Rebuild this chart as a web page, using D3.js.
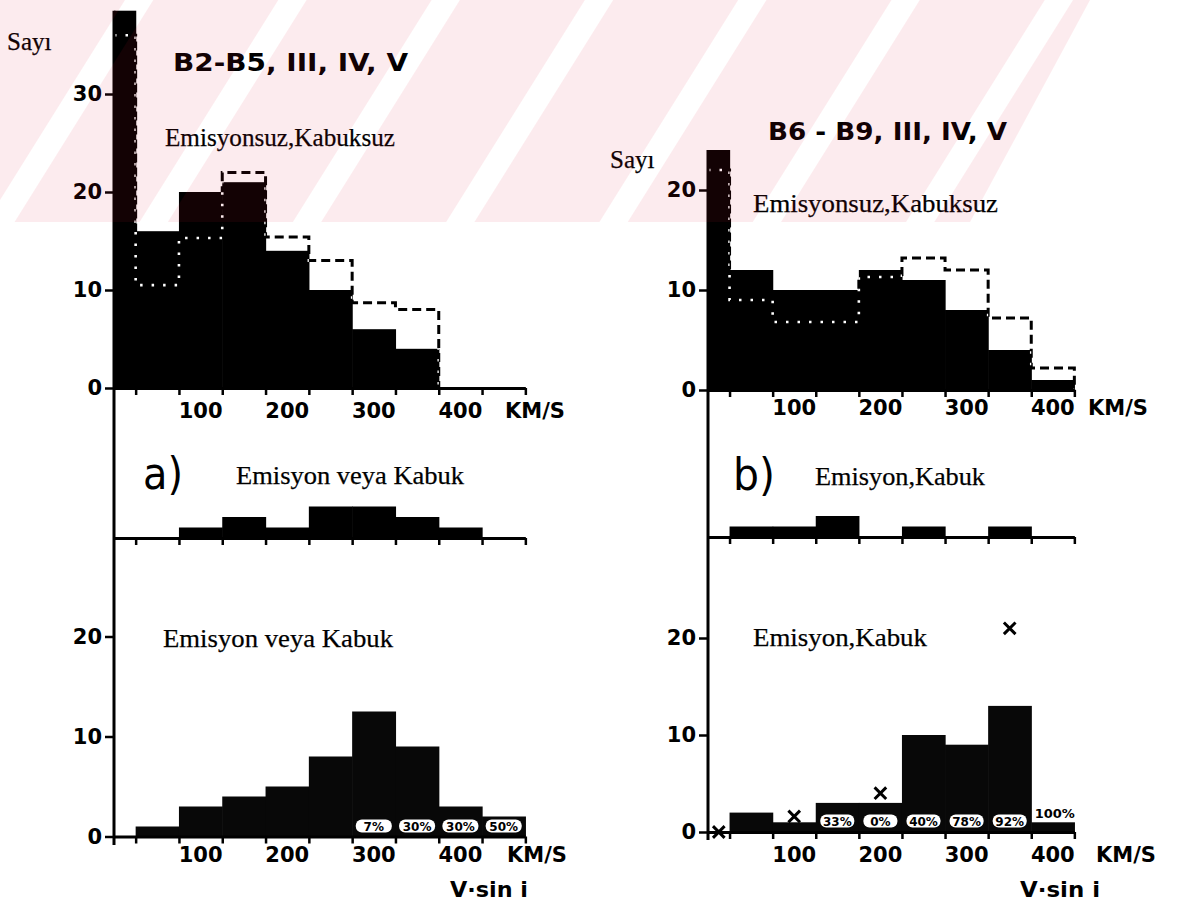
<!DOCTYPE html>
<html><head><meta charset="utf-8">
<script src="https://cdn.jsdelivr.net/npm/d3@7"></script>
<style>
body{margin:0;background:#fff}
.serif{font-family:"Liberation Serif","DejaVu Serif",serif;fill:#000;stroke:#000;stroke-width:0.25}
.sans{font-family:"DejaVu Sans",sans-serif;font-weight:bold;fill:#000}
</style>
</head><body>
<svg id="c" width="1193" height="904"></svg>
<script>
// ---------- data ----------
const binEdges = [0, 25, 75, 125, 175, 225, 275, 325, 375, 425, 475];
const tickKms = [25, 75, 125, 175, 225, 275, 325, 375, 425, 475];
const labelKms = [100, 200, 300, 400];
const unitLabel = "KM/S";
const xTitle = "V·sin i";

const topA = [38.5, 16, 20, 21, 14, 10, 6, 4, 0, 0];
const topADashed = [36, 10.5, 15.3, 22, 15.4, 13, 8.7, 8];
const topB = [24, 12, 10, 10, 12, 11, 8, 4, 1];
const topBDashed = [22, 9, 6.8, 6.8, 11.3, 13.2, 12, 7.2, 2.2];
const midA = [0, 0, 1, 2, 1, 3, 3, 2, 1, 0];
const midB = [0, 1, 1, 2, 0, 1, 0, 1, 0];
const botA = [0, 1, 3, 4, 5, 8, 12.5, 9, 3, 2];
const botB = [0, 2, 1, 3, 3, 10, 9, 13, 1];
const pctA = [null, null, null, null, null, null, "7%", "30%", "30%", "50%"];
const pctB = [null, null, null, "33%", "0%", "40%", "78%", "92%", null];
const pctBLast = "100%";
const crossKms = [12.5, 100, 200, 350];
const crossN = [0, 1.6, 4, 21];
const yTicksTopA = [0, 10, 20, 30];
const yTicks = [0, 10, 20];

const titleA = "B2-B5, III, IV, V";
const titleB = "B6 - B9, III, IV, V";
const sayi = "Sayı";
const lblNoEm = "Emisyonsuz,Kabuksuz";
const lblEmA = "Emisyon veya Kabuk";
const lblEmB = "Emisyon,Kabuk";

// ---------- setup ----------
const svg = d3.select("#c");
const defs = svg.append("defs");

const xA = d3.scaleLinear().domain([0, 475]).range([114, 114 + 0.866 * 475]);
const xB = d3.scaleLinear().domain([0, 425]).range([708, 708 + 0.862 * 425]);

const yTopA = d3.scaleLinear().domain([0, 10]).range([388, 290]);
const yTopB = d3.scaleLinear().domain([0, 10]).range([390, 290]);
const yMidA = d3.scaleLinear().domain([0, 1]).range([538, 527.5]);
const yMidB = d3.scaleLinear().domain([0, 1]).range([537, 526.5]);
const yBotA = d3.scaleLinear().domain([0, 10]).range([836.5, 736.5]);
const yBotB = d3.scaleLinear().domain([0, 10]).range([832, 735]);

let clipId = 0;
function bars(g, x, y, vals, fill) {
  const data = vals.map((v, i) => ({v, i})).filter(d => d.v > 0);
  return g.append("g").selectAll("rect").data(data).join("rect")
    .attr("x", d => x(binEdges[d.i]))
    .attr("width", d => x(binEdges[d.i + 1]) - x(binEdges[d.i]) + 0.6)
    .attr("y", d => y(d.v))
    .attr("height", d => y(0) - y(d.v))
    .attr("fill", fill || "#000");
}
function dashed(g, x, y, barVals, vals) {
  const n = vals.length;
  const pts = vals.map((v, i) => [x(binEdges[i]), y(v)]);
  pts.push([x(binEdges[n]), y(vals[n - 1])]);
  pts.push([x(binEdges[n]), y(0)]);
  const line = d3.line().curve(d3.curveStepAfter);
  const id = "clip" + (clipId++);
  const cp = defs.append("clipPath").attr("id", id);
  barVals.forEach((v, i) => {
    if (v > 0) cp.append("rect").attr("x", x(binEdges[i])).attr("width", x(binEdges[i + 1]) - x(binEdges[i]))
      .attr("y", y(v)).attr("height", y(0) - y(v));
  });
  g.append("path").attr("d", line(pts)).attr("fill", "none").attr("stroke", "#000")
    .attr("stroke-width", 3).attr("stroke-dasharray", "9,5");
  g.append("path").attr("d", line(pts)).attr("fill", "none").attr("stroke", "#fff")
    .attr("stroke-width", 2.6).attr("stroke-dasharray", "2.5,9").attr("clip-path", `url(#${id})`);
}
function xAxis(g, x, y0, showLabels, labelY, kmX, kmY) {
  const ax = g.append("g").attr("transform", `translate(0,${y0})`)
    .call(d3.axisBottom(x).tickValues(tickKms.filter(t => t <= x.domain()[1])).tickSize(7).tickSizeOuter(0).tickFormat(""));
  ax.select(".domain").attr("stroke-width", 3).attr("stroke", "#000");
  ax.selectAll(".tick line").attr("stroke-width", 2.5).attr("stroke", "#000");
  if (showLabels) {
    g.append("g").selectAll("text").data(labelKms).join("text")
      .attr("class", "sans").attr("x", d => x(d)).attr("y", labelY)
      .attr("text-anchor", "middle").attr("font-size", 21).text(d => d);
    g.append("text").attr("class", "sans").attr("x", kmX).attr("y", kmY)
      .attr("font-size", 21).text(unitLabel);
  }
}
function yAxis(g, x0, y, ticks) {
  const ax = g.append("g").attr("transform", `translate(${x0},0)`)
    .call(d3.axisLeft(y).tickValues(ticks).tickSize(9).tickPadding(3).tickFormat(d3.format("d")));
  ax.select(".domain").remove();
  ax.selectAll(".tick line").attr("stroke-width", 2.5).attr("stroke", "#000");
  ax.selectAll(".tick text").attr("class", "sans").attr("font-size", 21).attr("font-family", null);
}
function txt(cls, x, y, s, size, len) {
  const t = svg.append("text").attr("class", cls).attr("x", x).attr("y", y)
    .attr("font-size", size).text(s);
  if (len) t.attr("textLength", len).attr("lengthAdjust", "spacingAndGlyphs");
  return t;
}

// ---------- panel a ----------
const gA = svg.append("g");
bars(gA, xA, yTopA, topA);
dashed(gA, xA, yTopA, topA, topADashed);
xAxis(gA, xA, yTopA(0), true, 418, 505, 418);
yAxis(gA, 114, yTopA, yTicksTopA);

bars(gA, xA, yMidA, midA);
xAxis(gA, xA, yMidA(0), false);

bars(gA, xA, yBotA, botA, "#080808");
xAxis(gA, xA, yBotA(0), true, 862, 507, 862);
yAxis(gA, 114, yBotA, yTicks);
gA.append("line").attr("x1", xA(0)).attr("x2", xA(0)).attr("y1", yTopA(topA[0])).attr("y2", 845)
  .attr("stroke", "#000").attr("stroke-width", 3);

const pa = gA.append("g").selectAll("g").data(pctA.map((p, i) => ({p, i})).filter(d => d.p)).join("g")
  .attr("transform", d => `translate(${(xA(binEdges[d.i]) + xA(binEdges[d.i + 1])) / 2},826)`);
pa.append("rect").attr("x", -18).attr("y", -6.5).attr("width", 36).attr("height", 13).attr("rx", 6).attr("fill", "#fff");
pa.append("text").attr("class", "sans").attr("text-anchor", "middle").attr("y", 4.5).attr("font-size", 12).text(d => d.p);

// ---------- panel b ----------
const gB = svg.append("g");
bars(gB, xB, yTopB, topB);
dashed(gB, xB, yTopB, topB, topBDashed);
xAxis(gB, xB, yTopB(0), true, 415, 1088, 415);
yAxis(gB, 708, yTopB, yTicks);

bars(gB, xB, yMidB, midB);
xAxis(gB, xB, yMidB(0), false);

bars(gB, xB, yBotB, botB, "#080808");
xAxis(gB, xB, yBotB(0), true, 862, 1096, 862);
yAxis(gB, 708, yBotB, yTicks);
gB.append("line").attr("x1", xB(0)).attr("x2", xB(0)).attr("y1", yTopB(topB[0])).attr("y2", 840)
  .attr("stroke", "#000").attr("stroke-width", 3);

const pb = gB.append("g").selectAll("g").data(pctB.map((p, i) => ({p, i})).filter(d => d.p)).join("g")
  .attr("transform", d => `translate(${(xB(binEdges[d.i]) + xB(binEdges[d.i + 1])) / 2},821)`);
pb.append("rect").attr("x", -17).attr("y", -6.5).attr("width", 34).attr("height", 13).attr("rx", 6).attr("fill", "#fff");
pb.append("text").attr("class", "sans").attr("text-anchor", "middle").attr("y", 4.5).attr("font-size", 12).text(d => d.p);
gB.append("text").attr("class", "sans").attr("x", (xB(binEdges[8]) + xB(binEdges[9])) / 2 + 2).attr("y", 818)
  .attr("text-anchor", "middle").attr("font-size", 13).text(pctBLast);

gB.append("g").selectAll("path").data(crossKms.map((k, i) => ({k, n: crossN[i]}))).join("path")
  .attr("transform", d => `translate(${xB(d.k)},${yBotB(d.n)})`)
  .attr("d", d3.symbol(d3.symbolX, 90)())
  .attr("fill", "none").attr("stroke", "#000").attr("stroke-width", 3);

// ---------- texts ----------
txt("sans", 173, 71, titleA, 25, 235);
txt("sans", 768, 140, titleB, 25, 239);
txt("serif", 7, 50, sayi, 25);
txt("serif", 610, 168, sayi, 25);
txt("serif", 165, 146, lblNoEm, 26, 230);
txt("serif", 753, 212, lblNoEm, 26, 245);
txt("serif", 236, 484, lblEmA, 26, 228);
txt("serif", 815, 485, lblEmB, 26, 170);
txt("serif", 163, 647, lblEmA, 26, 230);
txt("serif", 753, 646, lblEmB, 26, 174);
svg.append("text").attr("x", 143).attr("y", 489).attr("font-family", "DejaVu Sans").attr("font-size", 44)
  .attr("textLength", 40).attr("lengthAdjust", "spacingAndGlyphs").text("a)");
svg.append("text").attr("x", 733).attr("y", 490).attr("font-family", "DejaVu Sans").attr("font-size", 44)
  .attr("textLength", 42).attr("lengthAdjust", "spacingAndGlyphs").text("b)");
txt("sans", 450, 897, xTitle, 21, 78);
txt("sans", 1020, 897, xTitle, 21, 80);

// ---------- pink watermark overlay ----------
const pat = defs.append("pattern").attr("id", "wm").attr("patternUnits", "userSpaceOnUse")
  .attr("width", 130).attr("height", 20).attr("patternTransform", "rotate(32)");
pat.append("rect").attr("x", 0).attr("y", 0).attr("width", 106).attr("height", 20).attr("fill", "rgb(225,20,50)");
svg.append("path").attr("d", "M0,0 L1090,0 L970,222 L0,222 Z")
  .attr("fill", "url(#wm)").attr("opacity", 0.085).attr("pointer-events", "none");
</script>
</body></html>
